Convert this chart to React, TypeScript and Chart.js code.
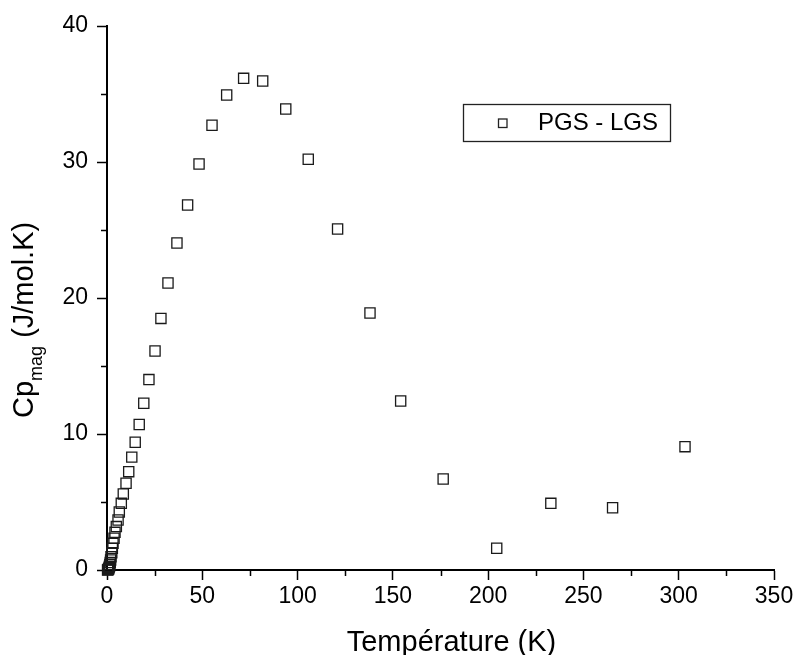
import React, { useEffect, useRef } from "react";
import { Chart, registerables } from "chart.js";

Chart.register(...registerables);

// ---- data ----
const temperatureK = [
  0.3, 0.5, 0.7, 0.9, 1.1, 1.3, 1.5, 1.7, 1.9, 2.1,
  2.5, 2.8, 3.15, 3.7, 4.2, 4.9, 5.8, 6.45, 7.5, 8.55,
  10.0, 11.4, 13.0, 14.8, 16.9, 19.3, 22.0, 25.2, 28.3, 32.0,
  36.7, 42.3, 48.3, 55.1, 62.8, 71.7, 81.7, 93.8, 105.6, 121.0,
  138.0, 154.1, 176.4, 204.5, 232.9, 265.3, 303.3,
];
const cpMag = [
  0.0, 0.02, 0.05, 0.1, 0.18, 0.28, 0.4, 0.55, 0.74, 0.98,
  1.27, 1.6, 1.96, 2.33, 2.77, 3.19, 3.68, 4.26, 4.9, 5.59,
  6.38, 7.23, 8.3, 9.39, 10.7, 12.26, 14.0, 16.1, 18.5, 21.1,
  24.04, 26.84, 29.85, 32.7, 34.93, 36.15, 35.96, 33.9, 30.2, 25.07,
  18.9, 12.43, 6.69, 1.6, 4.9, 4.58, 9.07,
];
const seriesLabel = "PGS - LGS";
const xTitle = "Température (K)";
const yTitleMain = "Cp";
const yTitleSub = "mag";
const yTitleUnit = " (J/mol.K)";
const xRange = [0, 350];
const yRange = [0, 40];
const xMajorStep = 50;
const yMajorStep = 10;

const FONT = '"Liberation Sans", Arial, Helvetica, sans-serif';

const decorPlugin = {
  id: "decor",
  afterDraw(chart: any) {
    const ctx = chart.ctx as CanvasRenderingContext2D;
    const xs = chart.scales.x;
    const ys = chart.scales.y;
    const ca = chart.chartArea;
    ctx.save();
    // minor ticks
    ctx.strokeStyle = "#000";
    ctx.lineWidth = 1.5;
    ctx.beginPath();
    for (let v = xRange[0] + xMajorStep / 2; v < xRange[1]; v += xMajorStep) {
      const px = Math.round(xs.getPixelForValue(v)) + 0.5;
      ctx.moveTo(px, ca.bottom);
      ctx.lineTo(px, ca.bottom + 6);
    }
    for (let v = yRange[0] + yMajorStep / 2; v < yRange[1]; v += yMajorStep) {
      const py = Math.round(ys.getPixelForValue(v)) + 0.5;
      ctx.moveTo(ca.left, py);
      ctx.lineTo(ca.left - 6, py);
    }
    ctx.stroke();

    // x title
    ctx.fillStyle = "#000";
    ctx.font = `29px ${FONT}`;
    ctx.textAlign = "center";
    ctx.textBaseline = "alphabetic";
    ctx.fillText(xTitle, (ca.left + ca.right) / 2 + 11, 651);

    // y title with subscript
    ctx.save();
    ctx.translate(33, 418);
    ctx.rotate(-Math.PI / 2);
    ctx.textAlign = "left";
    ctx.font = `29px ${FONT}`;
    ctx.fillText(yTitleMain, 0, 0);
    const w1 = ctx.measureText(yTitleMain).width;
    ctx.font = `18px ${FONT}`;
    ctx.fillText(yTitleSub, w1, 9);
    const w2 = ctx.measureText(yTitleSub).width;
    ctx.font = `29px ${FONT}`;
    ctx.fillText(yTitleUnit, w1 + w2, 0);
    ctx.restore();

    // legend box
    ctx.strokeStyle = "#222";
    ctx.lineWidth = 1.3;
    ctx.strokeRect(463.5, 104.5, 207, 37);
    ctx.strokeRect(498.5, 119, 8.5, 8.5);
    ctx.font = `24px ${FONT}`;
    ctx.textAlign = "left";
    ctx.textBaseline = "middle";
    ctx.fillText(seriesLabel, 538, 123);
    ctx.restore();
  },
};

export default function App() {
  const canvasRef = useRef<HTMLCanvasElement | null>(null);

  useEffect(() => {
    const canvas = canvasRef.current;
    if (!canvas) return;
    const chart = new Chart(canvas, {
      type: "scatter",
      data: {
        datasets: [
          {
            label: seriesLabel,
            data: temperatureK.map((t, i) => ({ x: t, y: cpMag[i] })),
            pointStyle: "rect",
            pointRadius: 7.2,
            pointHoverRadius: 7.2,
            pointBorderWidth: 1.3,
            borderColor: "#1a1a1a",
            backgroundColor: "rgba(255,255,255,0)",
            clip: false,
          } as any,
        ],
      },
      options: {
        animation: false,
        responsive: true,
        maintainAspectRatio: false,
        events: [],
        layout: { padding: { left: 0, top: 26, right: 23, bottom: 0 } },
        plugins: {
          legend: { display: false },
          tooltip: { enabled: false },
          title: { display: false },
        },
        scales: {
          x: {
            type: "linear",
            min: xRange[0],
            max: xRange[1],
            ticks: {
              stepSize: xMajorStep,
              color: "#000",
              font: { family: FONT, size: 23 },
              padding: 3,
              maxRotation: 0,
            },
            grid: {
              display: true,
              drawOnChartArea: false,
              drawTicks: true,
              tickLength: 10,
              tickColor: "#000",
              tickWidth: 1.5,
            },
            border: { display: true, color: "#000", width: 2 },
            afterFit(scale: any) {
              scale.height = 85;
            },
          },
          y: {
            type: "linear",
            min: yRange[0],
            max: yRange[1],
            ticks: {
              stepSize: yMajorStep,
              color: "#000",
              font: { family: FONT, size: 23 },
              padding: 9,
            },
            grid: {
              display: true,
              drawOnChartArea: false,
              drawTicks: true,
              tickLength: 10,
              tickColor: "#000",
              tickWidth: 1.5,
            },
            border: { display: true, color: "#000", width: 2 },
            afterFit(scale: any) {
              scale.width = 107;
            },
          },
        },
      },
      plugins: [decorPlugin],
    });
    return () => chart.destroy();
  }, []);

  return (
    <div
      style={{
        position: "absolute",
        left: 0,
        top: 0,
        width: 797,
        height: 655,
        background: "#fff",
      }}
    >
      <canvas ref={canvasRef} />
    </div>
  );
}
